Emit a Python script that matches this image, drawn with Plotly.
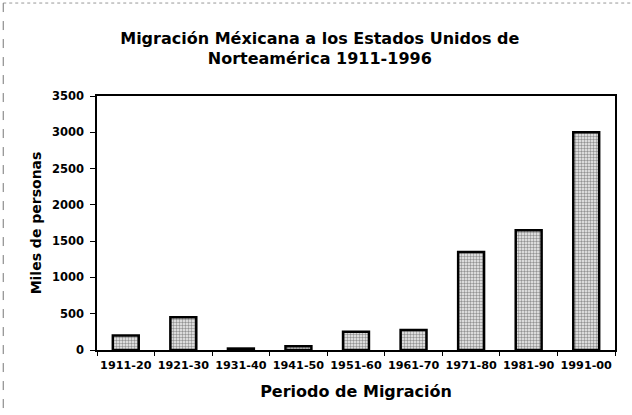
import plotly.graph_objects as go

periods = ["1911-20", "1921-30", "1931-40", "1941-50", "1951-60",
           "1961-70", "1971-80", "1981-90", "1991-00"]
miles = [200, 450, 20, 50, 250, 275, 1350, 1650, 3000]
y_ticks = [0, 500, 1000, 1500, 2000, 2500, 3000, 3500]

fig = go.Figure(go.Bar(
    x=periods, y=miles, width=0.45,
    marker=dict(
        color="white",
        line=dict(color="black", width=2.5),
        pattern=dict(shape=".", fgcolor="#333333", bgcolor="#f2f2f2",
                     size=3, solidity=0.5),
    ),
))

font = "DejaVu Sans, Liberation Sans, Arial, sans-serif"
fig.update_layout(
    width=632, height=415,
    margin=dict(l=97, r=17, t=96, b=65, autoexpand=False),
    paper_bgcolor="white", plot_bgcolor="white",
    showlegend=False,
    font=dict(family=font, color="black", size=11.5),
    title=dict(
        text="<b>Migración Méxicana a los Estados Unidos de<br>Norteamérica 1911-1996</b>",
        x=0.506, xanchor="center", y=0.895, yanchor="top",
        font=dict(size=16, family=font),
    ),
    xaxis=dict(
        showline=True, linecolor="black", linewidth=1.5, mirror=True,
        ticks="outside", ticklen=4, tickcolor="black",
        tickson="boundaries", ticklabelstandoff=4, tickangle=0,
        tickfont=dict(size=11.2, family=font, weight="bold"),
        title=dict(text="<b>Periodo de Migración</b>", font=dict(size=16), standoff=15),
    ),
    yaxis=dict(
        range=[0, 3500], tickvals=y_ticks,
        showline=True, linecolor="black", linewidth=1.5, mirror=True,
        ticks="outside", ticklen=5, tickcolor="black", ticklabelstandoff=4,
        showgrid=False, zeroline=False,
        tickfont=dict(size=11.5, family=font, weight="bold"),
        title=dict(text="<b>Miles de personas</b>", font=dict(size=14), standoff=7),
    ),
    shapes=[
        dict(type="line", xref="paper", yref="paper", x0=-0.181, x1=1.03, y0=1.366, y1=1.366,
             line=dict(color="#999999", width=1, dash="dot")),
        dict(type="line", xref="paper", yref="paper", x0=-0.181, x1=-0.181, y0=1.366, y1=-0.25,
             line=dict(color="#777777", width=1, dash="dash")),
    ],
)

fig.write_html("out.html", config={"displayModeBar": False},
               post_script="document.body.style.margin='0';")
